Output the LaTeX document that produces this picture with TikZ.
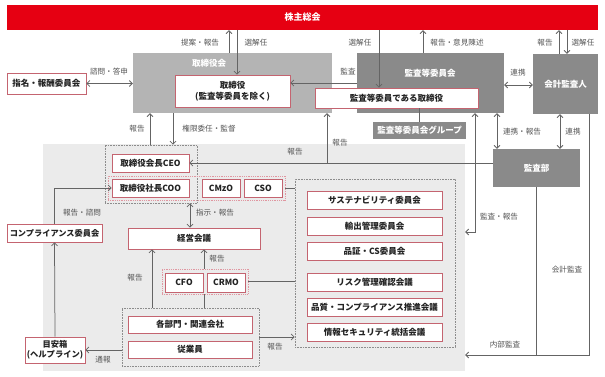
\documentclass[tikz,border=0pt]{standalone}
\usepackage{fontspec}
\setmainfont{Noto Sans CJK JP}
\usetikzlibrary{arrows.meta}
\definecolor{jred}{RGB}{230,0,18}
\definecolor{gA}{RGB}{180,180,180}
\definecolor{gB}{RGB}{138,138,138}
\definecolor{bgc}{RGB}{235,235,235}
\definecolor{bord}{RGB}{196,100,112}
\definecolor{pinkdot}{RGB}{224,150,160}
\definecolor{gdot}{RGB}{140,140,140}
\definecolor{ln}{RGB}{100,100,100}
\definecolor{lbl}{RGB}{85,85,85}
\definecolor{txt}{RGB}{35,35,35}
\tikzset{
 box/.style={draw=bord, line width=0.8pt, fill=white, inner sep=0pt, align=center, font=\fontsize{8.5}{10.5}\selectfont\bfseries, text=txt},
 graybox/.style={fill=gB, inner sep=0pt, draw=none},
 lab/.style={font=\fontsize{7.6}{9}\selectfont, text=lbl, inner sep=0pt},
 wlab/.style={font=\fontsize{8.5}{10}\selectfont\bfseries, text=white, inner sep=0pt},
 conn/.style={draw=ln, line width=0.75pt},
 arr/.style={conn, -{Straight Barb[length=3pt,width=6pt]}},
 darr/.style={conn, {Straight Barb[length=3pt,width=6pt]}-{Straight Barb[length=3pt,width=6pt]}},
 gdots/.style={draw=gdot, densely dotted, line width=0.6pt, inner sep=0pt},
 pdots/.style={draw=pinkdot, densely dotted, line width=0.8pt, inner sep=0pt},
}
\begin{document}
\begin{tikzpicture}[x=1pt,y=-1pt]
\useasboundingbox (0,0) rectangle (605,377);
\fill[white] (0,0) rectangle (605,377);
% background region
\node[fill=bgc, inner sep=0pt, minimum width=422, minimum height=227] (bg) at (254,257.5) {};
% top bar
\node[fill=jred, inner sep=0pt, minimum width=591, minimum height=25, text=white, font=\fontsize{9}{10}\selectfont\bfseries] (soukai) at (302.5,17.5) {株主総会};
% gray boxes
\node[fill=gA, inner sep=0pt, minimum width=199, minimum height=60] (torikai) at (232.5,83) {};
\node[wlab] (torikailbl) at (209,63) {取締役会};
\node[graybox, minimum width=147, minimum height=60] (kansakai) at (430.5,83) {};
\node[wlab] (kansakailbl) at (430,73) {監査等委員会};
\node[graybox, minimum width=65, minimum height=60, wlab] (kaikei) at (565.5,84) {会計監査人};
\node[graybox, minimum width=87, minimum height=38, wlab] (kansabu) at (536.5,168) {監査部};
\node[graybox, minimum width=93, minimum height=17, wlab] (group) at (419.5,130.5) {監査等委員会グループ};
% white boxes top
\node[box, minimum width=115, minimum height=32] (torishimari) at (232.5,91) {取締役\\(監査等委員を除く)};
\node[box, minimum width=163, minimum height=20] (kansatori) at (396.5,98) {監査等委員である取締役};
\node[box, minimum width=79, minimum height=21] (shimei) at (46.5,83.5) {指名・報酬委員会};
% executive groups
\node[gdots, minimum width=92, minimum height=58] (topgrp) at (151,174) {};
\node[pdots, minimum width=177, minimum height=24] (cxogrp) at (196.5,188) {};
\node[box, minimum width=77, minimum height=18] (ceo) at (150.5,163) {取締役会長CEO};
\node[box, minimum width=77, minimum height=18] (coo) at (150.5,188) {取締役社長COO};
\node[box, minimum width=38, minimum height=18] (cmzo) at (221,188) {CMzO};
\node[box, minimum width=38, minimum height=18] (cso) at (263,188) {CSO};
% committees
\node[gdots, minimum width=160, minimum height=168] (iinkai) at (375,263) {};
\node[box, minimum width=135, minimum height=18] (sust) at (374.5,200) {サステナビリティ委員会};
\node[box, minimum width=135, minimum height=18] (yushutsu) at (374.5,226) {輸出管理委員会};
\node[box, minimum width=135, minimum height=18] (hinsho) at (374.5,251) {品証・CS委員会};
\node[box, minimum width=135, minimum height=18] (risk) at (374.5,282) {リスク管理確認会議};
\node[box, minimum width=135, minimum height=18] (hinshitsu) at (374.5,307) {品質・コンプライアンス推進会議};
\node[box, minimum width=135, minimum height=18] (joho) at (374.5,332) {情報セキュリティ統括会議};
% management
\node[box, minimum width=132, minimum height=21] (keiei) at (194,238.5) {経営会議};
\node[pdots, minimum width=86, minimum height=25] (fingrp) at (205,281.5) {};
\node[box, minimum width=38, minimum height=19] (cfo) at (184,282.5) {CFO};
\node[box, minimum width=38, minimum height=19] (crmo) at (226,282.5) {CRMO};
\node[gdots, minimum width=137, minimum height=58] (bumongrp) at (190.5,337) {};
\node[box, minimum width=124, minimum height=17] (bumon) at (190,324.5) {各部門・関連会社};
\node[box, minimum width=124, minimum height=17] (jugyoin) at (190,349.5) {従業員};
\node[box, minimum width=60, minimum height=26, font=\fontsize{8.3}{9.5}\selectfont\bfseries] (meyasu) at (55,350) {目安箱\\(ヘルプライン)};
\node[box, minimum width=95, minimum height=18, font=\fontsize{8.2}{10}\selectfont\bfseries] (comp) at (54.5,233) {コンプライアンス委員会};
\coordinate (j1) at (327,163);
% connectors top
\draw[arr] (torikai.north -| 229,0) -- (soukai.south -| 229,0);
\draw[arr] (soukai.south -| 237,0) -- (torishimari.north -| 237,0);
\draw[arr] (soukai.south -| 379,0) -- (kansatori.north -| 379,0);
\draw[arr] (kansakai.north -| 423,0) -- (soukai.south -| 423,0);
\draw[arr] (kaikei.north -| 559,0) -- (soukai.south -| 559,0);
\draw[arr] (soukai.south -| 567,0) -- (kaikei.north -| 567,0);
\draw[darr] (shimei.east) -- (torikai.west |- shimei.east);
\draw[arr] (kansakai.west |- 0,83) -- (torishimari.east |- 0,83);
\draw[darr] (kansakai.east |- 0,85) -- (kaikei.west |- 0,85);
\draw[conn] (kansatori.south -| group.north) -- (group.north);
\draw[arr] (topgrp.north -| 150,0) -- (torikai.south -| 150,0);
\draw[arr] (torikai.south -| 173,0) -- (topgrp.north -| 173,0);
\draw[arr] (kansabu.west |- ceo.east) -- (ceo.east);
\draw[arr] (j1) -- (torikai.south -| j1);
\draw[darr] (kansakai.south -| 475,0) |- (bg.east |- 0,232);
\draw[darr] (kansakai.south -| 497,0) -- (kansabu.north -| 497,0);
\draw[darr] (kaikei.south -| 560,0) -- (kansabu.north -| 560,0);
\draw[arr] (kansabu.south) |- (bg.east |- 0,355);
\draw[conn] (kaikei.south -| 589,0) |- (kansabu.south |- 0,355);
% connectors internal
\draw[conn] (cxogrp.east |- cso.east) -- (iinkai.west |- cso.east);
\draw[darr] (topgrp.south -| 190,0) -- (keiei.north -| 190,0);
\draw[arr] (bumongrp.north -| 152,0) -- (keiei.south -| 152,0);
\draw[arr] (fingrp.north -| 204,0) -- (keiei.south -| 204,0);
\draw[conn] (bumongrp.north -| 204,0) -- (fingrp.south -| 204,0);
\draw[conn] (fingrp.east) -- (iinkai.west |- fingrp.east);
\draw[arr] (bumongrp.east |- 0,337) -- (iinkai.west |- 0,337);
\draw[arr] (bumongrp.west |- 0,350) -- (meyasu.east |- 0,350);
\draw[arr] (meyasu.north) -- (comp.south);
\draw[arr] (comp.north) |- (coo.west);
% labels
\node[lab] (l1) at (200,43) {提案・報告};
\node[lab] (l2) at (256,43) {選解任};
\node[lab] (l3) at (360,43) {選解任};
\node[lab] (l4) at (457,43) {報告・意見陳述};
\node[lab] (l5) at (545,43) {報告};
\node[lab] (l6) at (583,43) {選解任};
\node[lab] (l7) at (109,72) {諮問・答申};
\node[lab] (l8) at (348,72) {監査};
\node[lab] (l9) at (518,73) {連携};
\node[lab] (l10) at (137,129) {報告};
\node[lab] (l11) at (209,129) {権限委任・監督};
\node[lab] (l12) at (522,132) {連携・報告};
\node[lab] (l13) at (573,132) {連携};
\node[lab] (l14) at (340,143) {報告};
\node[lab] (l15) at (295,152) {報告};
\node[lab] (l16) at (215,213) {指示・報告};
\node[lab] (l17) at (82,213) {報告・諮問};
\node[lab] (l18) at (499,217) {監査・報告};
\node[lab] (l19) at (217,259) {報告};
\node[lab] (l20) at (135,278) {報告};
\node[lab] (l21) at (567,270) {会計監査};
\node[lab] (l22) at (505,345) {内部監査};
\node[lab] (l23) at (275,347) {報告};
\node[lab] (l24) at (103,360) {通報};
\end{tikzpicture}
\end{document}
